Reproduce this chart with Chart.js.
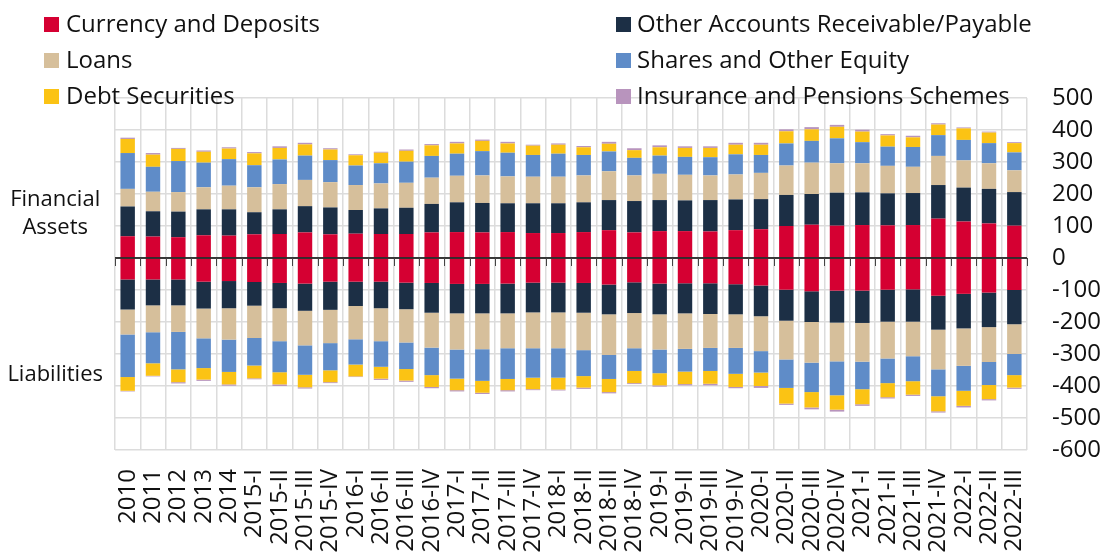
<!DOCTYPE html>
<html><head><meta charset="utf-8">
<script src="https://cdn.jsdelivr.net/npm/chart.js@4.4.1/dist/chart.umd.min.js"></script>
<style>
html,body{margin:0;padding:0;background:#fff;}
#wrap{position:relative;width:1107px;height:554px;font-family:'Open Sans',sans-serif;overflow:hidden;}
canvas{position:absolute;left:0;top:0;}
.lg{position:absolute;font-size:24px;line-height:32px;color:#111;white-space:nowrap;}
.bx{position:absolute;width:15px;height:15px;}
</style></head><body>
<div id="wrap"><canvas id="c" width="1107" height="554"></canvas><div id="legend"></div></div>
<script>
const categories = ['2010','2011','2012','2013','2014','2015-I','2015-II','2015-III','2015-IV','2016-I','2016-II','2016-III','2016-IV','2017-I','2017-II','2017-III','2017-IV','2018-I','2018-II','2018-III','2018-IV','2019-I','2019-II','2019-III','2019-IV','2020-I','2020-II','2020-III','2020-IV','2021-I','2021-II','2021-III','2021-IV','2022-I','2022-II','2022-III'];

const seriesNames = ['Currency and Deposits','Other Accounts Receivable/Payable','Loans','Shares and Other Equity','Debt Securities','Insurance and Pensions Schemes'];
const seriesColors = ['#d50032','#1c2f45','#d6bf9b','#5f8cc8','#fbc314','#b894bd'];

// Financial assets (positive)
const currencyAssets = [68,67,65,71,70,74,75,80,74,76,75,75,80,81,80,81,78,78,81,87,80,84,84,83,87,90,100,104,101,103,102,103,123,114,108,101];
const otherAssets    = [93,79,80,81,82,69,77,82,84,74,80,82,89,93,92,90,93,93,93,94,98,97,96,98,96,94,97,96,103,102,100,100,105,106,108,105];
const loansAssets    = [55,61,61,69,74,78,79,82,79,78,78,78,82,83,86,84,83,83,84,90,80,82,80,77,78,82,92,98,92,91,86,82,91,85,80,68];
const sharesAssets   = [112,78,97,77,83,69,77,76,69,61,63,66,68,69,76,74,68,72,64,62,55,57,56,57,63,56,69,68,78,66,60,62,65,64,63,56];
const debtAssets     = [44,38,38,34,33,37,36,35,33,32,33,34,33,32,32,29,29,28,24,24,24,26,28,29,30,32,38,36,36,33,35,30,33,36,33,29];
const insuranceAssets= [4,5,3,4,4,4,5,5,4,3,3,4,4,5,4,5,3,4,4,6,6,6,5,5,6,6,6,7,6,6,4,5,4,3,3,3];

// Liabilities (negative)
const currencyLiab = [-67,-67,-67,-74,-72,-75,-78,-80,-74,-74,-74,-77,-78,-81,-81,-80,-77,-77,-78,-83,-76,-80,-79,-79,-82,-86,-99,-104,-102,-102,-99,-98,-118,-112,-108,-100];
const otherLiab    = [-94,-81,-81,-84,-85,-74,-79,-85,-88,-76,-83,-83,-93,-92,-92,-93,-93,-93,-93,-93,-96,-96,-94,-96,-94,-96,-97,-96,-100,-101,-100,-101,-106,-108,-108,-107];
const loansLiab    = [-78,-84,-83,-93,-98,-101,-103,-108,-104,-104,-103,-104,-109,-113,-112,-109,-112,-112,-117,-127,-110,-110,-111,-106,-105,-109,-121,-127,-121,-121,-115,-108,-124,-117,-109,-93];
const sharesLiab   = [-133,-97,-117,-93,-101,-86,-97,-92,-85,-79,-80,-83,-86,-91,-99,-96,-92,-92,-81,-75,-71,-74,-71,-72,-81,-67,-89,-92,-106,-86,-77,-78,-84,-78,-72,-66];
const debtLiab     = [-43,-39,-40,-36,-39,-40,-38,-39,-37,-37,-37,-36,-37,-36,-37,-35,-36,-37,-36,-41,-38,-38,-39,-40,-41,-42,-49,-48,-45,-47,-44,-42,-47,-47,-44,-39];
const insuranceLiab= [-2,-2,-4,-4,-4,-3,-5,-4,-3,-2,-4,-4,-4,-4,-4,-4,-3,-3,-4,-4,-3,-4,-4,-5,-4,-6,-4,-6,-6,-5,-4,-4,-4,-5,-4,-4];

const sideLabels = [['Financial','Assets'],'Liabilities'];
const yTickStep = 100;
const yMin = -600, yMax = 500;

const assetSeries = [currencyAssets, otherAssets, loansAssets, sharesAssets, debtAssets, insuranceAssets];
const liabSeries  = [currencyLiab, otherLiab, loansLiab, sharesLiab, debtLiab, insuranceLiab];

// HTML legend (two columns)
const legendOrder = [0,2,4,1,3,5];
const legendEl = document.getElementById('legend');
const colX = [[44,66],[616,637]];
const rowBoxTop = [17,53,89];
const rowTextTop = [6.5,42.7,78.7];
legendOrder.forEach((si, k) => {
  const col = Math.floor(k/3), row = k%3;
  const b = document.createElement('span');
  b.className='bx'; b.style.left=colX[col][0]+'px'; b.style.top=rowBoxTop[row]+'px'; b.style.background=seriesColors[si];
  const t = document.createElement('span');
  t.className='lg'; t.style.left=colX[col][1]+'px'; t.style.top=rowTextTop[row]+'px'; t.textContent=seriesNames[si];
  legendEl.appendChild(b); legendEl.appendChild(t);
});

const datasets = [];
assetSeries.forEach((arr,i)=>datasets.push({label:seriesNames[i], data:arr, backgroundColor:seriesColors[i], stack:'s', yAxisID:'y'}));
liabSeries.forEach((arr,i)=>datasets.push({label:seriesNames[i]+' (liabilities)', data:arr, backgroundColor:seriesColors[i], stack:'s', yAxisID:'y'}));

const zeroLine = {
  id:'zeroLine',
  afterDatasetsDraw(chart){
    const {ctx, chartArea:a, scales:{x,y}} = chart;
    const y0 = y.getPixelForValue(0);
    ctx.save();
    ctx.strokeStyle='#000'; ctx.lineWidth=1.5;
    ctx.beginPath(); ctx.moveTo(a.left,y0); ctx.lineTo(a.right,y0); ctx.stroke();
    const w = x.getPixelForValue(1)-x.getPixelForValue(0);
    ctx.lineWidth=1; ctx.strokeStyle='#444';
    for(let i=0;i<=categories.length;i++){
      const px = Math.round(x.getPixelForValue(0)-w/2+i*w)+0.5;
      ctx.beginPath(); ctx.moveTo(px,y0); ctx.lineTo(px,y0+8); ctx.stroke();
    }
    ctx.restore();
  }
};

const font = {family:"'Open Sans', sans-serif", size:24};
new Chart(document.getElementById('c'), {
  type:'bar',
  data:{labels:categories, datasets},
  options:{
    responsive:false, animation:false, devicePixelRatio:1,
    layout:{padding:{top:98,left:0,right:0,bottom:0}},
    datasets:{bar:{categoryPercentage:0.57, barPercentage:1, borderWidth:0}},
    plugins:{legend:{display:false}, tooltip:{enabled:false}},
    scales:{
      x:{stacked:true, offset:true,
        grid:{color:'#dcdcdc', lineWidth:1.5, offset:true, drawTicks:false},
        border:{display:false},
        ticks:{autoSkip:false, minRotation:90, maxRotation:90, padding:19, color:'#111', font},
        afterFit(s){ s.height=104; }
      },
      y:{position:'right', stacked:true, min:yMin, max:yMax,
        grid:{color:'#dcdcdc', lineWidth:1.5, drawTicks:false},
        border:{display:false},
        ticks:{stepSize:yTickStep, padding:25, color:'#111', font},
        afterFit(s){ s.width=80; }
      },
      y2:{position:'left', min:yMin, max:yMax,
        grid:{display:false, drawTicks:false},
        border:{display:false},
        afterBuildTicks(s){ s.ticks=[{value:138},{value:-364}]; },
        ticks:{crossAlign:'center', padding:12, color:'#111', font:{family:"'Open Sans', sans-serif", size:22, lineHeight:1.3}, callback:(v,i)=>sideLabels[i]},
        afterFit(s){ s.width=115; }
      }
    }
  },
  plugins:[zeroLine]
});
</script>
</body></html>
